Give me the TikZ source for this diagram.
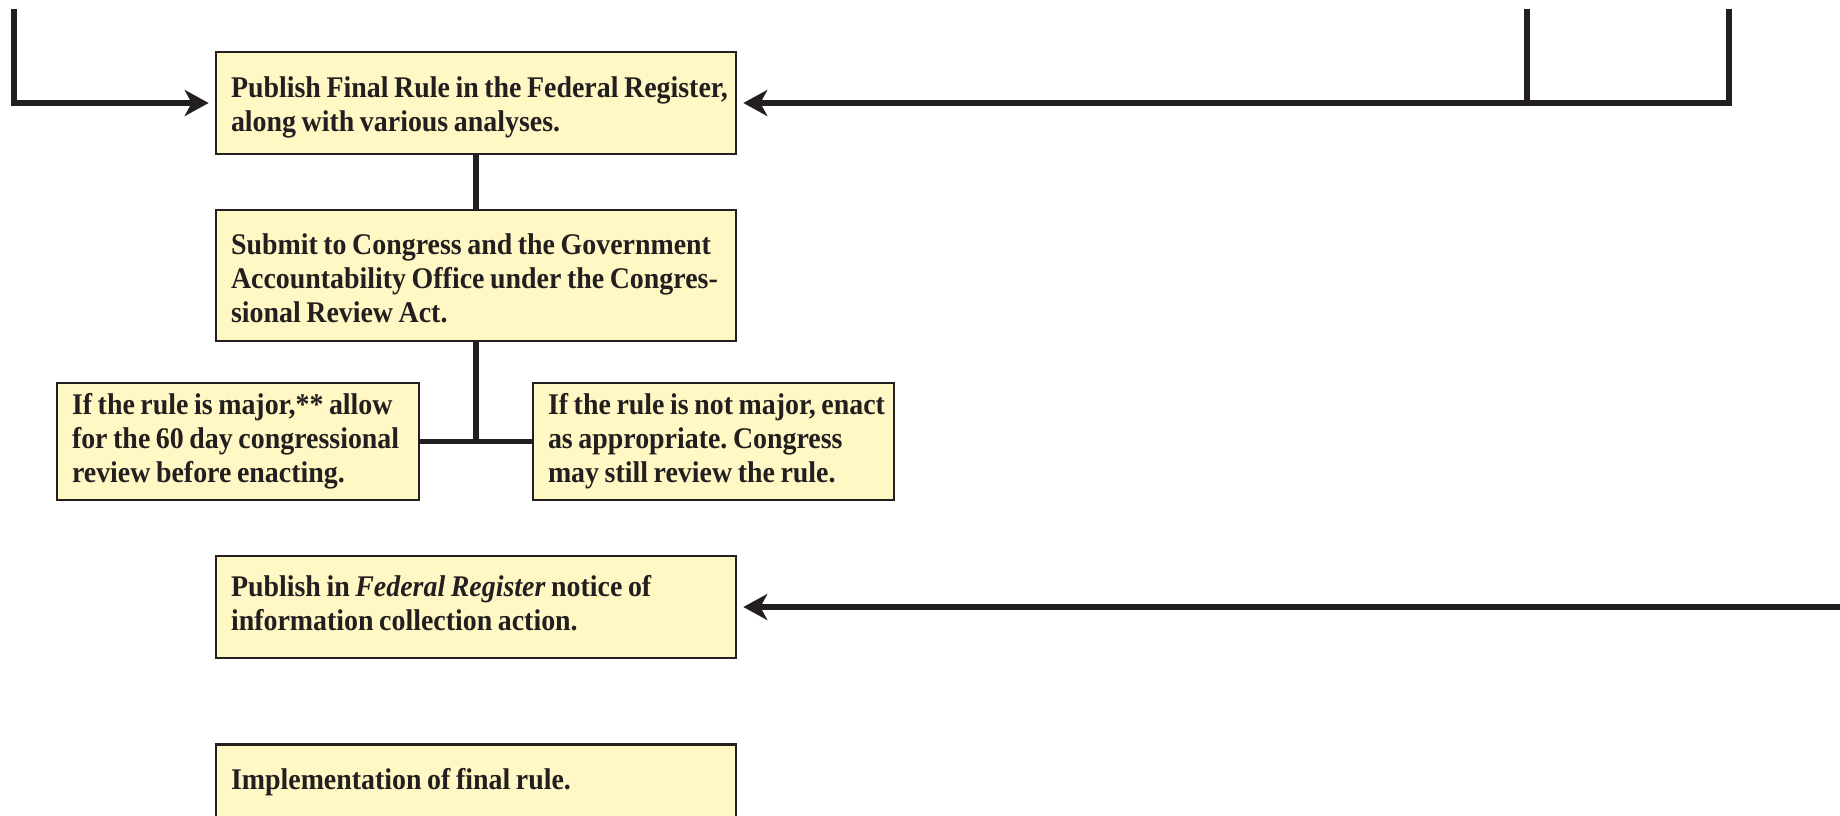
\documentclass[tikz,border=0pt]{standalone}
\usepackage{fontspec}
\setmainfont{Liberation Serif}[FakeStretch=0.93, WordSpace=0.8]
\usetikzlibrary{arrows.meta}
\definecolor{boxfill}{RGB}{255,248,196}
\definecolor{ink}{RGB}{35,31,32}
\newcommand{\boxtext}[2]{\makebox[#1][l]{\begin{tabular}{@{}l@{}}#2\end{tabular}}}
\frenchspacing
\begin{document}
\begin{tikzpicture}[x=0.5pt,y=-0.5pt,
  box/.style={draw=ink, line width=1.3pt, fill=boxfill, inner xsep=7.5pt, inner ysep=0pt,
    font=\fontsize{15}{17}\selectfont\bfseries\frenchspacing, text=ink},
  conn/.style={draw=ink, line width=2.8pt},
  arr/.style={conn, -{Stealth[length=12pt,width=13pt,inset=3.5pt]}, shorten >=3pt}]
\clip (0,0) rectangle (1840,815);
\useasboundingbox (0,0) rectangle (1840,815);

\node[box, minimum height=51pt] (b1) at (476,103)
  {\boxtext{245pt}{\rule{0pt}{16.4pt}Publish Final Rule in the Federal Register,\\ along with various analyses.}};
\node[box, minimum height=65.5pt] (b2) at (476,275.5)
  {\boxtext{245pt}{\rule{0pt}{18.5pt}Submit to Congress and the Government\\ Accountability Office under the Congres-\\ sional Review Act.}};
\node[box, minimum height=58.5pt] (b3) at (238,441.5)
  {\boxtext{166pt}{If the rule is major,** allow\\ for the 60 day congressional\\ review before enacting.}};
\node[box, minimum height=58.5pt] (b4) at (713.5,441.5)
  {\boxtext{165.5pt}{If the rule is not major, enact\\ as appropriate. Congress\\ may still review the rule.}};
\node[box, minimum height=51pt] (b5) at (476,607)
  {\boxtext{245pt}{Publish in \textit{Federal Register} notice of\\ information collection action.}};
\node[box, anchor=north, inner ysep=12pt, text depth=40pt] (b6) at (476,743)
  {\makebox[245pt][l]{Implementation of final rule.}};

\coordinate (l0) at (14,9);
\coordinate (r1) at (1729,9);
\coordinate (r2) at (1527,9);
\coordinate (r3) at (1850,607);

\draw[arr] (l0) |- (b1.west);
\draw[arr] (r1) |- (b1.east);
\draw[conn] (r2) -- (r2 |- b1.east);
\draw[conn] (b1.south) -- (b2.north);
\draw[conn] (b2.south) -- (b2.south |- b3.east);
\draw[conn] (b3.east) -- (b4.west);
\draw[arr] (r3) -- (b5.east);
\end{tikzpicture}
\end{document}
